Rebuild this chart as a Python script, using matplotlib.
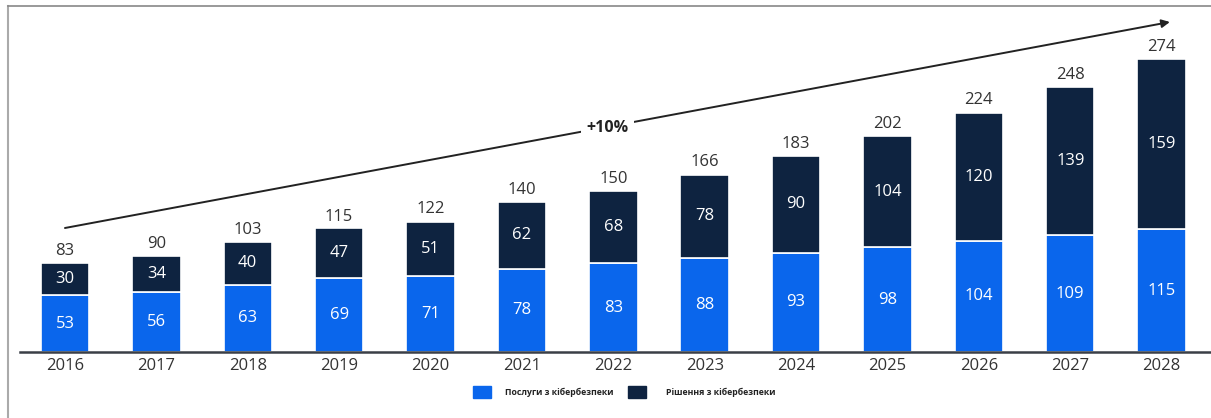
import matplotlib
matplotlib.use("Agg")
import matplotlib.pyplot as plt
from matplotlib.patches import Rectangle
from matplotlib.lines import Line2D

plt.rcParams['font.family'] = ['Open Sans', 'DejaVu Sans']

years = ["2016", "2017", "2018", "2019", "2020", "2021", "2022",
         "2023", "2024", "2025", "2026", "2027", "2028"]
services = [53, 56, 63, 69, 71, 78, 83, 88, 93, 98, 104, 109, 115]
solutions = [30, 34, 40, 47, 51, 62, 68, 78, 90, 104, 120, 139, 159]
totals = [83, 90, 103, 115, 122, 140, 150, 166, 183, 202, 224, 248, 274]
series_names = ["Послуги з кібербезпеки", "Рішення з кібербезпеки"]
growth_label = "+10%"

BLUE = "#0a66ec"
NAVY = "#0e2340"
TEXT = "#333333"

fig = plt.figure(figsize=(12.11, 4.18), dpi=100)
W, H = 1211, 418
ax = fig.add_axes([20 / W, 1 - 352 / H, (1211 - 20) / W, (352 - 31.3) / H])

x = list(range(len(years)))
width = 0.53
ax.bar(x, services, width=width, color=BLUE, edgecolor="white", linewidth=1.2, zorder=2)
ax.bar(x, solutions, width=width, bottom=services, color=NAVY, edgecolor="white",
       linewidth=1.2, zorder=2)

for i in x:
    ax.text(i, services[i] / 2, str(services[i]), ha="center", va="center",
            color="white", fontsize=12)
    ax.text(i, services[i] + solutions[i] / 2, str(solutions[i]), ha="center",
            va="center", color="white", fontsize=12)
    ax.text(i, totals[i] + 4, str(totals[i]), ha="center", va="bottom",
            color=TEXT, fontsize=12)

ax.set_xlim(-0.492, 12.54)
ax.set_ylim(0, 300)
ax.set_xticks(x)
ax.set_xticklabels(years, fontsize=12, color=TEXT)
ax.tick_params(axis="x", length=0, pad=4)
ax.set_yticks([])
for s in ("top", "right", "left"):
    ax.spines[s].set_visible(False)
ax.spines["bottom"].set_color("#3a3f47")
ax.spines["bottom"].set_linewidth(1.8)

# growth trend arrow with label
ax.annotate("", xy=(12.09, 308.7), xytext=(0.0, 116.0),
            arrowprops=dict(arrowstyle="-|>", color="#222222", lw=1.4,
                            mutation_scale=12, shrinkA=0, shrinkB=0),
            annotation_clip=False, zorder=3)
ax.text(5.94, 209.5, growth_label, ha="center", va="center", fontsize=11.5,
        fontweight="bold", color="#222222", zorder=4,
        bbox=dict(boxstyle="square,pad=0.35", fc="white", ec="none"))

# legend
fig.patches.append(Rectangle((473 / W, 1 - 398 / H), 18 / W, 12 / H,
                             transform=fig.transFigure, color=BLUE))
fig.patches.append(Rectangle((628 / W, 1 - 398 / H), 18 / W, 12 / H,
                             transform=fig.transFigure, color=NAVY))
fig.text(505 / W, 1 - 392 / H, series_names[0], fontsize=6.3, fontweight="bold",
         color="#222222", va="center", ha="left")
fig.text(666 / W, 1 - 392 / H, series_names[1], fontsize=6.3, fontweight="bold",
         color="#222222", va="center", ha="left")

# frame lines
fig.add_artist(Line2D([8 / W, 8 / W], [0, 1 - 6 / H], transform=fig.transFigure,
                      color="#aaaaaa", lw=1.5))
fig.add_artist(Line2D([8 / W, 1], [1 - 6 / H, 1 - 6 / H], transform=fig.transFigure,
                      color="#888888", lw=1.2))

fig.savefig("out.png", dpi=100)
